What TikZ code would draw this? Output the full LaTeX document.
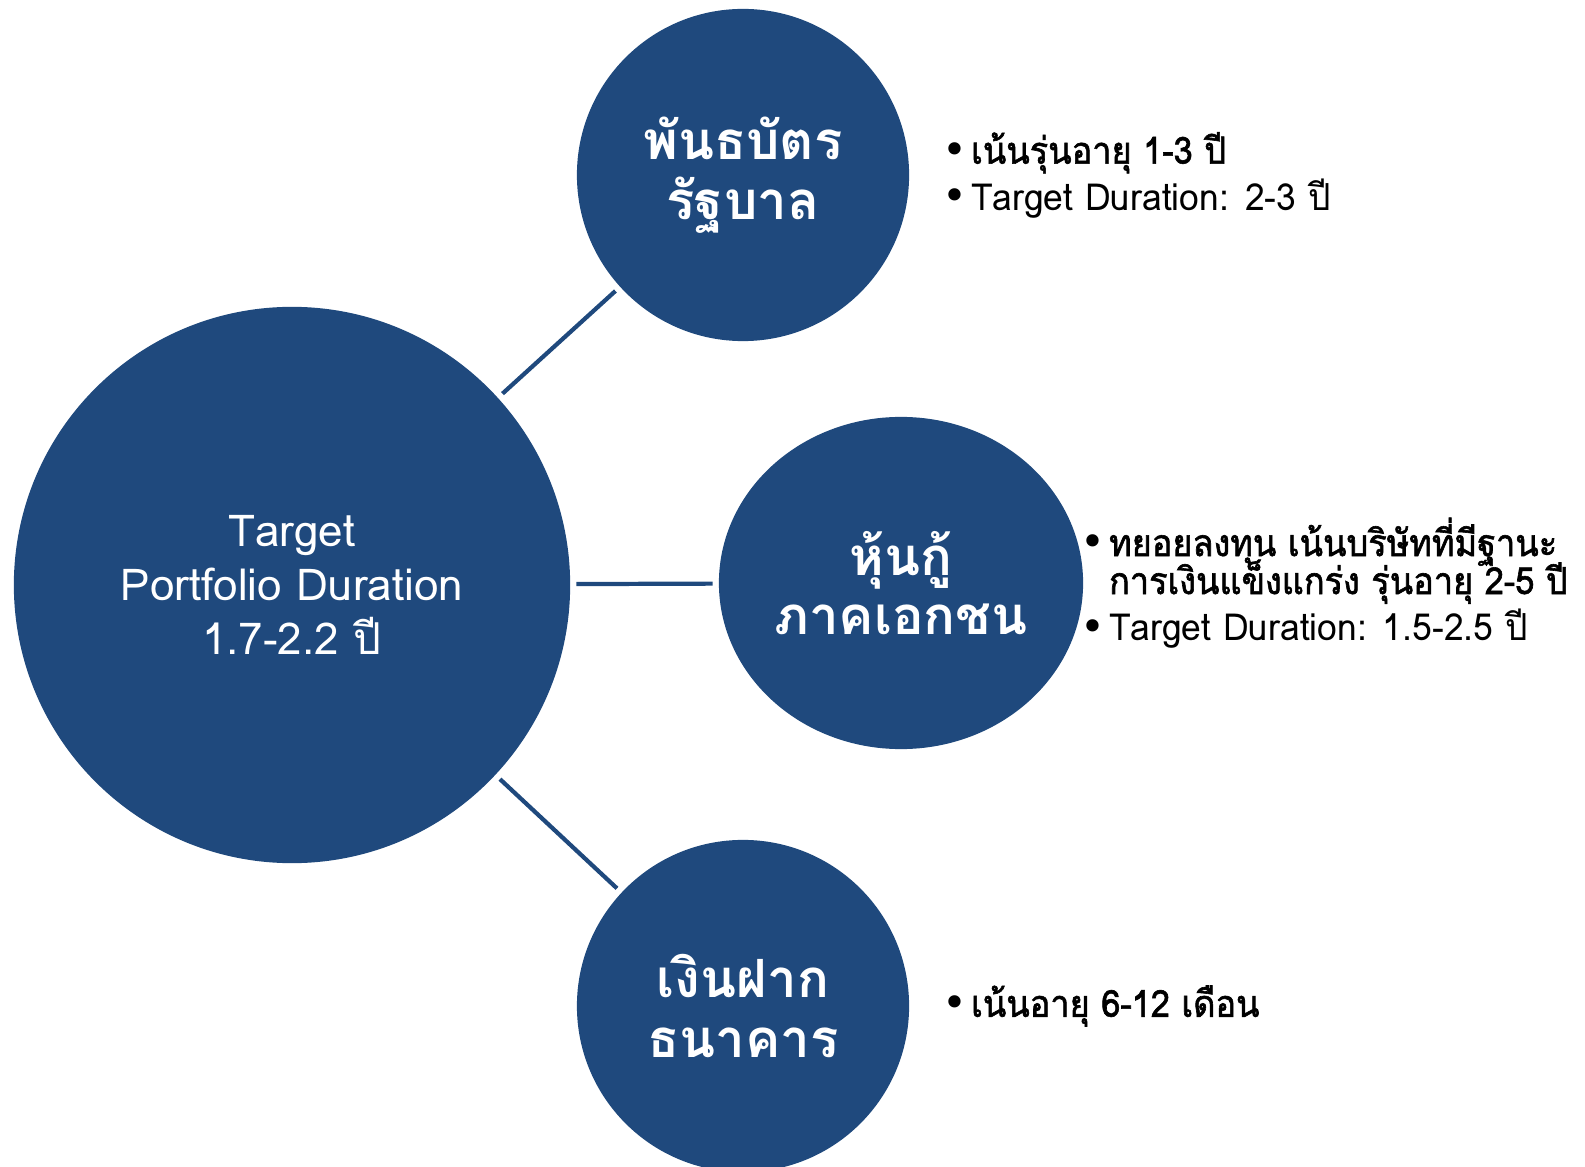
\documentclass[tikz,border=0pt]{standalone}
\usepackage{fontspec}
\setmainfont[Script=Thai]{Loma}
\newfontfamily\notefont[Script=Thai, FakeStretch=0.95]{Loma}
\newfontfamily\notebold[Script=Thai, FakeBold=1.6, FakeStretch=0.92]{Loma}
\newfontfamily\dotfont{DejaVu Sans}
\usetikzlibrary{shapes.geometric, positioning}
\definecolor{navy}{HTML}{1F497D}

\newcommand{\dotitem}{\makebox[7pt][l]{\dotfont\fontsize{12}{12}\selectfont\hspace*{-1.2pt}\raisebox{-0.2pt}{•}}}
\newcommand{\dotskip}{\makebox[7pt]{}}
\newcommand{\tightlines}{\lineskiplimit -20pt\relax}

\begin{document}
\begin{tikzpicture}[
    x=0.01cm, y=0.01cm,
    bubble/.style={circle, fill=navy, text=white, align=center, inner sep=0pt, minimum size=3.32cm, font=\fontsize{15}{17}\selectfont\bfseries\tightlines},
    bigbubble/.style={bubble, minimum size=5.56cm, font=\fontsize{12.5}{15.4}\selectfont\tightlines},
    ovalbubble/.style={bubble, ellipse, minimum width=3.64cm, minimum height=3.32cm},
    notes/.style={anchor=west, inner sep=0pt, align=left, font=\notefont\fontsize{10.6}{13.2}\selectfont\tightlines},
    link/.style={draw=navy, line width=1.2pt, shorten <=1.6pt, shorten >=1.6pt}
]
\useasboundingbox (0,0) rectangle (1585,1166);

% ========== Circulos ==========
\node[bigbubble] (main) at (292,581) {Target\\Portfolio Duration\\1.7-2.2 ปี};

\node[bubble] (gov) at (743,991) {พันธบัตร\\รัฐบาล};
\node[ovalbubble] (corp) at (901,583) {หุ้นกู้\\ภาคเอกชน};
\node[bubble] (bank) at (743,160) {เงินฝาก\\ธนาคาร};

% Lineas
\draw[link] (main) -- (gov);
\draw[link] (main) -- (corp);
\draw[link] (main) -- (bank);

% ========== Notas ==========
\node[notes, right=0.36cm of gov] (govNotes) {\dotitem{\notebold เน้นรุ่นอายุ 1-3 ปี}\\
    \dotitem Target Duration: 2-3 ปี};
\node[notes, right=0cm of corp] (corpNotes) {\dotitem{\notebold ทยอยลงทุน เน้นบริษัทที่มีฐานะ}\\[-2.4pt]
    \dotskip{\notebold การเงินแข็งแกร่ง รุ่นอายุ 2-5 ปี}\\
    \dotitem Target Duration: 1.5-2.5 ปี};
\node[notes, right=0.36cm of bank] (bankNotes) {\dotitem{\notebold เน้นอายุ 6-12 เดือน}};

\end{tikzpicture}
\end{document}
